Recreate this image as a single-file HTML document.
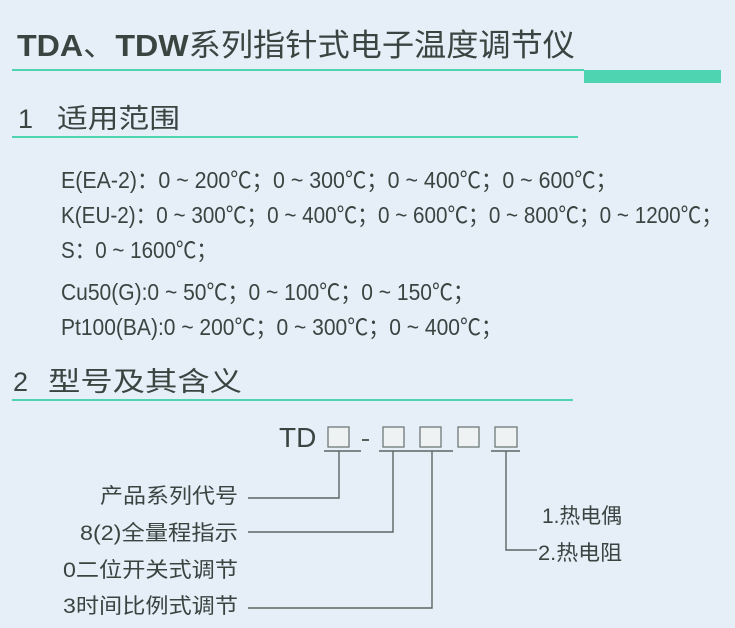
<!DOCTYPE html>
<html><head><meta charset="utf-8"><style>
html,body{margin:0;padding:0;background:#e6eef8;}
svg{display:block}
text{fill:#394541;font-family:"Liberation Sans","Noto Sans CJK SC",sans-serif;}
</style></head><body>
<svg width="735" height="628" viewBox="0 0 735 628" xmlns="http://www.w3.org/2000/svg">
<rect width="735" height="628" fill="#e6eef8"/>
<text x="17" y="56" font-size="31" textLength="558" lengthAdjust="spacingAndGlyphs"><tspan font-weight="bold">TDA</tspan>、<tspan font-weight="bold">TDW</tspan>系列指针式电子温度调节仪</text>
<rect x="12" y="69" width="572" height="2" fill="#4fd4b0"/>
<rect x="584" y="70" width="137" height="13" fill="#4fd4b2"/>
<text x="18" y="128" font-size="27">1</text>
<text x="57" y="128" font-size="27" textLength="123" lengthAdjust="spacingAndGlyphs">适用范围</text>
<rect x="12" y="136" width="566" height="2" fill="#4fd4b0"/>
<g font-size="23">
<text x="61" y="188" textLength="556" lengthAdjust="spacingAndGlyphs">E(EA-2)：0 ~ 200℃；0 ~ 300℃；0 ~ 400℃；0 ~ 600℃；</text>
<text x="61" y="223" textLength="661" lengthAdjust="spacingAndGlyphs">K(EU-2)：0 ~ 300℃；0 ~ 400℃；0 ~ 600℃；0 ~ 800℃；0 ~ 1200℃；</text>
<text x="61" y="258" textLength="156" lengthAdjust="spacingAndGlyphs">S：0 ~ 1600℃；</text>
<text x="61" y="300" textLength="413" lengthAdjust="spacingAndGlyphs">Cu50(G):0 ~ 50℃；0 ~ 100℃；0 ~ 150℃；</text>
<text x="61" y="335" textLength="441" lengthAdjust="spacingAndGlyphs">Pt100(BA):0 ~ 200℃；0 ~ 300℃；0 ~ 400℃；</text>
</g>
<text x="13" y="391" font-size="27">2</text>
<text x="48" y="391" font-size="27" textLength="194" lengthAdjust="spacingAndGlyphs">型号及其含义</text>
<rect x="12" y="399" width="561" height="2" fill="#4fd4b0"/>
<text x="279" y="447" font-size="28">TD</text>
<g fill="#eef2f2" stroke="#6f7a78" stroke-width="1.3">
<rect x="328" y="427" width="21" height="20"/>
<rect x="383" y="427" width="21" height="20"/>
<rect x="420" y="427" width="21" height="20"/>
<rect x="458" y="427" width="21" height="20"/>
<rect x="495" y="427" width="22" height="20"/>
</g>
<rect x="362" y="439" width="7" height="2" fill="#55605d"/>
<g stroke="#5b6663" stroke-width="1.4" fill="none">
<line x1="324" y1="451" x2="361" y2="451"/>
<line x1="379" y1="451" x2="453" y2="451"/>
<line x1="491" y1="451" x2="520" y2="451"/>
<polyline points="339,451 339,498 248,498"/>
<polyline points="393,451 393,532 248,532"/>
<polyline points="432,451 432,608 248,608"/>
<polyline points="506,451 506,550 537,550"/>
</g>
<g font-size="21">
<text x="100" y="503" textLength="138" lengthAdjust="spacingAndGlyphs">产品系列代号</text>
<text x="80" y="540" textLength="158" lengthAdjust="spacingAndGlyphs">8(2)全量程指示</text>
<text x="63" y="577" textLength="175" lengthAdjust="spacingAndGlyphs">0二位开关式调节</text>
<text x="63" y="613" textLength="175" lengthAdjust="spacingAndGlyphs">3时间比例式调节</text>
<text x="542" y="523" textLength="80" lengthAdjust="spacingAndGlyphs">1.热电偶</text>
<text x="538" y="560" textLength="84" lengthAdjust="spacingAndGlyphs">2.热电阻</text>
</g>
</svg>
</body></html>
